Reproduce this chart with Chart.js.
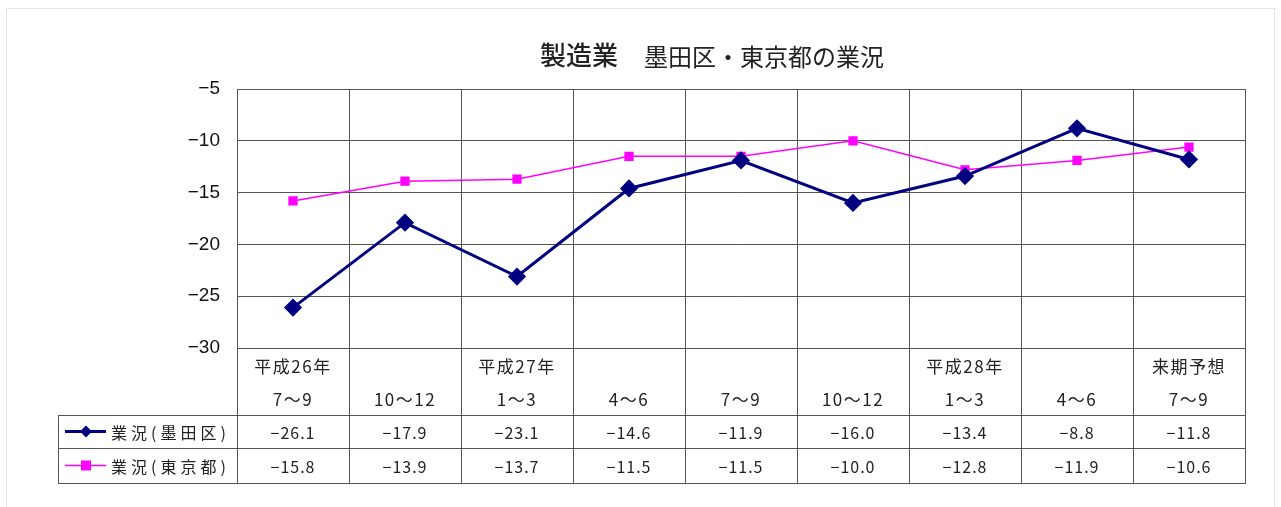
<!DOCTYPE html>
<html lang="ja">
<head>
<meta charset="utf-8">
<script src="https://cdn.jsdelivr.net/npm/chart.js@4.4.1/dist/chart.umd.min.js"></script>
<style>
  html, body { margin: 0; padding: 0; background: #fff; }
  #wrap { width: 1281px; height: 507px; position: relative; }
</style>
</head>
<body>
<div id="wrap"><canvas id="gyokyo" width="1281" height="507"></canvas></div>
<script>
const periods = [
  ['平成26年', '7〜9'], ['', '10〜12'], ['平成27年', '1〜3'], ['', '4〜6'], ['', '7〜9'],
  ['', '10〜12'], ['平成28年', '1〜3'], ['', '4〜6'], ['来期予想', '7〜9']
];
const sumida = [-26.1, -17.9, -23.1, -14.6, -11.9, -16.0, -13.4, -8.8, -11.8];
const tokyo = [-15.8, -13.9, -13.7, -11.5, -11.5, -10.0, -12.8, -11.9, -10.6];
const seriesNames = ['業況(墨田区)', '業況(東京都)'];
const yTicks = [-30, -25, -20, -15, -10, -5];

const JP = '"Noto Sans CJK JP", "Liberation Sans", sans-serif';
const NUM = '"Liberation Sans", "Noto Sans CJK JP", sans-serif';
const fmt = (v, d) => (v < 0 ? '\u2212' : '') + Math.abs(v).toFixed(d);

// title, category labels and the data table under the plot
const tablePlugin = {
  id: 'tablePlugin',
  afterDraw(chart) {
    const ctx = chart.ctx;
    const xs = chart.scales.x;
    const area = chart.chartArea;
    const colW = xs.width / periods.length;
    const rowTop = 415, rowMid = 448, rowBot = 483, tableLeft = 58;

    ctx.save();
    // faint frame round the whole chart
    ctx.strokeStyle = '#e4e4e4';
    ctx.lineWidth = 1;
    ctx.strokeRect(6.5, 8.5, 1268, 505);

    // title
    ctx.fillStyle = '#222';
    ctx.textBaseline = 'middle';
    ctx.textAlign = 'left';
    ctx.font = '500 26px ' + JP;
    ctx.fillText('製造業', 540, 55);
    ctx.font = '24px ' + JP;
    ctx.fillText('墨田区・東京都の業況', 644, 57);

    // category labels, two lines each
    ctx.textAlign = 'center';
    ctx.font = '17px ' + JP;
    ctx.letterSpacing = '1.5px';
    periods.forEach((p, i) => {
      const x = xs.getPixelForValue(i);
      if (p[0]) ctx.fillText(p[0], x, 367);
      ctx.fillText(p[1], x, 400);
    });
    ctx.letterSpacing = '0px';

    // table grid
    ctx.strokeStyle = '#555';
    ctx.lineWidth = 1;
    ctx.beginPath();
    for (let i = 0; i <= periods.length; i++) {
      const x = Math.round(xs.left + i * colW) + 0.5;
      ctx.moveTo(x, area.bottom);
      ctx.lineTo(x, rowBot);
    }
    [rowTop, rowMid, rowBot].forEach(y => {
      ctx.moveTo(tableLeft, y + 0.5);
      ctx.lineTo(xs.right + 1, y + 0.5);
    });
    ctx.moveTo(tableLeft + 0.5, rowTop);
    ctx.lineTo(tableLeft + 0.5, rowBot);
    ctx.stroke();

    // row headers with line samples, then values
    const rows = [
      { y: (rowTop + rowMid) / 2, data: sumida, ds: chart.data.datasets[0] },
      { y: (rowMid + rowBot) / 2, data: tokyo, ds: chart.data.datasets[1] }
    ];
    rows.forEach((r, k) => {
      ctx.strokeStyle = r.ds.borderColor;
      ctx.lineWidth = k === 0 ? 3 : 1.5;
      ctx.beginPath();
      ctx.moveTo(65, r.y);
      ctx.lineTo(106, r.y);
      ctx.stroke();
      ctx.fillStyle = r.ds.borderColor;
      if (k === 0) {
        ctx.beginPath();
        ctx.moveTo(86, r.y - 6);
        ctx.lineTo(92, r.y);
        ctx.lineTo(86, r.y + 6);
        ctx.lineTo(80, r.y);
        ctx.closePath();
        ctx.fill();
      } else {
        ctx.fillRect(81, r.y - 5, 10, 10);
      }
      ctx.fillStyle = '#222';
      ctx.textAlign = 'left';
      ctx.font = '16px ' + JP;
      ctx.letterSpacing = '4px';
      ctx.fillText(seriesNames[k], 111, r.y + 1);

      ctx.textAlign = 'center';
      ctx.font = '16px ' + JP;
      ctx.letterSpacing = '1px';
      r.data.forEach((v, i) => {
        ctx.fillText(fmt(v, 1), xs.getPixelForValue(i), r.y + 1);
      });
      ctx.letterSpacing = '0px';
    });
    ctx.restore();
  }
};

new Chart(document.getElementById('gyokyo'), {
  type: 'line',
  data: {
    labels: periods,
    datasets: [
      {
        label: seriesNames[0],
        data: sumida,
        borderColor: '#000080',
        backgroundColor: '#000080',
        borderWidth: 3,
        pointStyle: 'rectRot',
        pointRadius: 7,
        tension: 0
      },
      {
        label: seriesNames[1],
        data: tokyo,
        borderColor: '#ff00ff',
        backgroundColor: '#ff00ff',
        borderWidth: 1.5,
        pointStyle: 'rect',
        pointRadius: 5.5,
        tension: 0
      }
    ]
  },
  options: {
    responsive: false,
    animation: false,
    devicePixelRatio: 1,
    layout: { padding: { top: 89, right: 36, bottom: 0, left: 0 } },
    plugins: {
      legend: { display: false },
      tooltip: { enabled: false },
      title: { display: false }
    },
    scales: {
      x: {
        offset: true,
        grid: { offset: true, color: '#555', drawTicks: false },
        border: { color: '#555' },
        ticks: { display: false },
        afterFit(scale) { scale.height = 507 - 348; }
      },
      y: {
        min: -30,
        max: -5,
        afterBuildTicks(scale) { scale.ticks = yTicks.map(v => ({ value: v })); },
        grid: { color: '#555', drawTicks: false },
        border: { color: '#555' },
        ticks: {
          color: '#111',
          padding: 17,
          font: { family: NUM, size: 19 },
          callback: v => fmt(v, 0)
        },
        afterFit(scale) { scale.width = 237; }
      }
    }
  },
  plugins: [tablePlugin]
});
</script>
</body>
</html>
